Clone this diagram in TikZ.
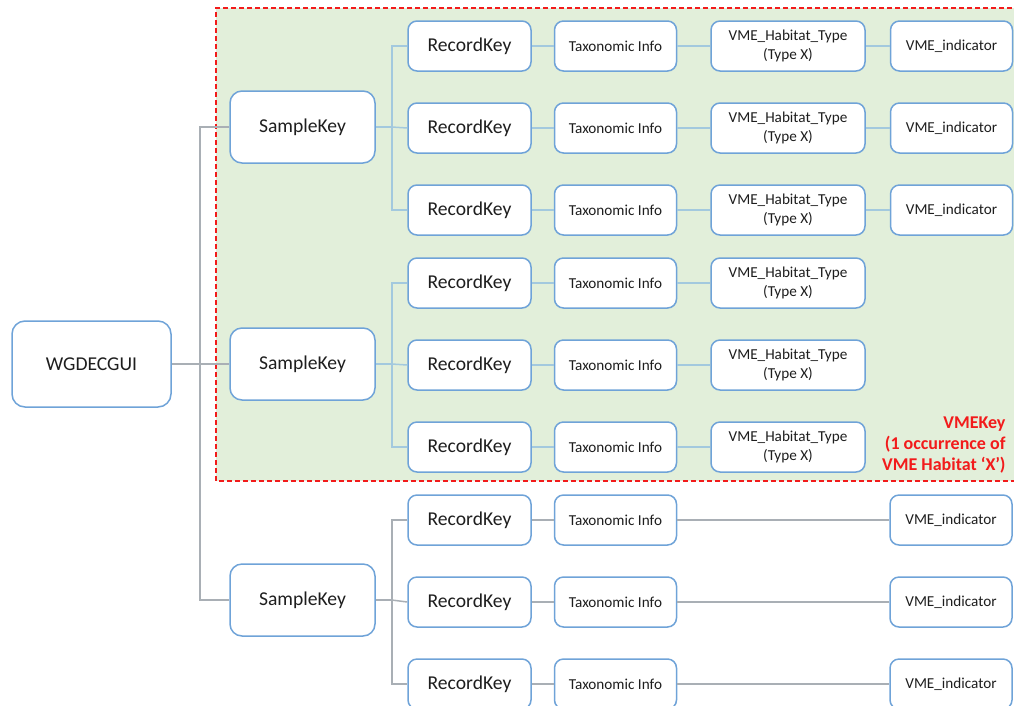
\documentclass[tikz,border=0pt]{standalone}
\usepackage{fontspec}
\setmainfont{Carlito}
\usetikzlibrary{positioning,backgrounds}
\definecolor{boxblue}{HTML}{6FA3D8}
\definecolor{boxtext}{HTML}{1E1E1E}
\definecolor{linkgrey}{HTML}{A9AFB5}
\definecolor{linkblue}{HTML}{A3C9DE}
\definecolor{shadegreen}{HTML}{E2EFDA}
\definecolor{keyred}{HTML}{F21B1B}
\tikzstyle{keyBox} = [
  shape=rectangle,
  rounded corners=9pt,
  draw=boxblue,
  line width=1.5pt,
  fill=white,
  text=boxtext,
  align=center,
  inner sep=0pt,
  minimum height=50pt]
\tikzstyle{bigBox} = [keyBox, font=\fontsize{19.6}{22}\selectfont]
\tikzstyle{smallBox} = [keyBox, font=\fontsize{15.2}{18.5}\selectfont]
\tikzstyle{link} = [line width=1.5pt, draw=linkgrey]
\tikzstyle{innerLink} = [link, draw=linkblue]
\newcommand{\habtype}{VME\_Habitat\_Type\\(Type X)}

\begin{document}
\begin{tikzpicture}[x=1pt,y=-1pt]
  \useasboundingbox (0,0) rectangle (1014,705);

  % VMEKey area
  \fill[shadegreen] (216,8) rectangle (1020,481);
  \draw[keyred, line width=1.2pt, dash pattern=on 5pt off 3pt]
    (1020,8) -- (216,8) -- (216,481) -- (1020,481);

  \node[bigBox, minimum width=159pt, minimum height=86pt, rounded corners=13pt]
    (root) at (91.5,364) {WGDECGUI};
  \foreach \s/\y in {1/127, 2/364, 3/600}
    \node[bigBox, minimum width=145pt, minimum height=72pt, rounded corners=12pt]
      (sample\s) at (302.5,\y) {SampleKey};

  \foreach \r/\y in {1/46,2/128,3/210,4/283,5/365,6/447,7/520,8/602,9/684} {
    \node[bigBox, minimum width=123pt] (record\r) at (469.5,\y) {RecordKey};
    \node[smallBox, minimum width=122pt, right=22pt of record\r] (taxon\r) {Taxonomic Info};
  }
  \foreach \r in {1,...,6}
    \node[smallBox, minimum width=154pt, right=33pt of taxon\r] (habitat\r) {\habtype};
  \foreach \r in {1,2,3}
    \node[smallBox, minimum width=122pt, right=24pt of habitat\r] (indicator\r) {VME\_indicator};
  \foreach \r in {7,8,9}
    \node[smallBox, minimum width=122pt, right=212pt of taxon\r] (indicator\r) {VME\_indicator};

  \node[anchor=east, align=right, text=keyred, font=\bfseries\fontsize{18}{21}\selectfont]
    (vmekey) at (1009,445) {VMEKey\\(1 occurrence of\\VME Habitat ‘X’)};

  % connectors
  \coordinate (trunk) at (200,364);
  \draw[link] (root.east) -- (trunk);
  \draw[link] (sample1.west) -| (trunk) |- (sample3.west);
  \draw[link] (trunk) -- (sample2.west);

  \foreach \s/\a/\b/\c/\style in {1/1/2/3/innerLink, 2/4/5/6/innerLink, 3/7/8/9/link} {
    \draw[\style] (sample\s.east) -- ++(16,0) coordinate (bus\s);
    \draw[\style] (record\a.west) -| (bus\s) |- (record\c.west);
    \draw[\style] (bus\s) -- (record\b.west);
    \foreach \r in {\a,\b,\c}
      \draw[\style] (record\r) -- (taxon\r);
  }
  \foreach \r in {1,...,6}
    \draw[innerLink] (taxon\r) -- (habitat\r);
  \foreach \r in {1,2,3}
    \draw[innerLink] (habitat\r) -- (indicator\r);
  \foreach \r in {7,8,9}
    \draw[link] (taxon\r) -- (indicator\r);

\end{tikzpicture}
\end{document}
